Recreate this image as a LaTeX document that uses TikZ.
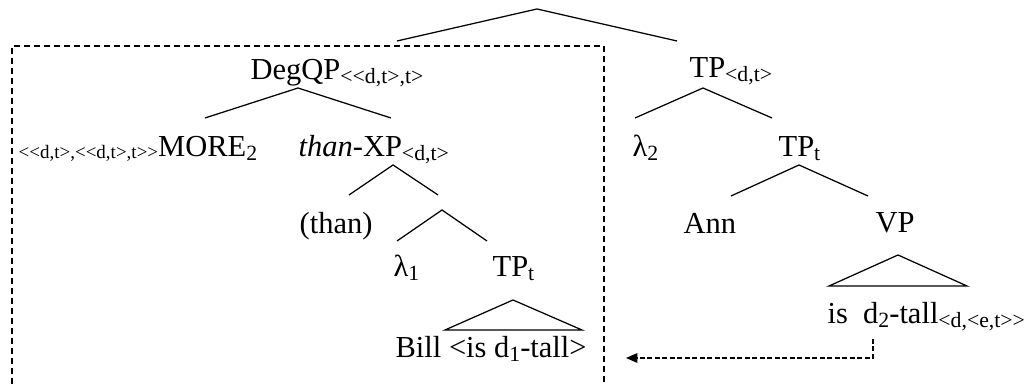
\documentclass[tikz,border=0pt]{standalone}
\usepackage{fontspec}
\setmainfont{Liberation Serif}[Ligatures=TeXOff]
\usetikzlibrary{arrows.meta}

\newcommand{\tsub}[1]{\raisebox{-1.6pt}{\fontsize{8.7}{9}\selectfont #1}}
\newcommand{\typ}[1]{\raisebox{-0.8pt}{\fontsize{7.6}{9}\selectfont #1}}

\begin{document}
\begin{tikzpicture}[x=0.4pt,y=-0.4pt,line width=0.5pt,
  lbl/.style={anchor=base west,inner sep=0pt,font=\fontsize{12.2}{14}\selectfont},
  frame/.style={dash pattern=on 2.4pt off 1.6pt},
  trace/.style={dash pattern=on 2pt off 1pt,-{Triangle[length=4.5pt,width=3.8pt]}}]
\useasboundingbox (0,0) rectangle (1028,384);

% labels
\node[lbl] (degqp) at (250,80) {DegQP\tsub{<<d,t>,t>}};
\node[lbl] (more) at (18,157) {\typ{<<d,t>,<<d,t>,t>>}MORE\tsub{2}};
\node[lbl] (thanxp) at (298,157) {\textit{than}-XP\tsub{<d,t>}};
\node[lbl] (than) at (299,234) {(than)};
\node[lbl] (lam1) at (393,277) {λ\tsub{1}};
\node[lbl] (tp1) at (492,277) {TP\tsub{t}};
\node[lbl] (bill) at (395,358) {Bill <is d\tsub{1}-tall>};
\node[lbl] (tpdt) at (689,78) {TP\tsub{<d,t>}};
\node[lbl] (lam2) at (632,157) {λ\tsub{2}};
\node[lbl] (tp2) at (778,157) {TP\tsub{t}};
\node[lbl] (ann) at (683,234) {Ann};
\node[lbl] (vp) at (875,233) {VP};
\node[lbl] (isd2) at (827,324) {is\ \ d\tsub{2}-tall\tsub{<d,<e,t>>}};

% branch points
\coordinate (root) at (537,9);
\coordinate (root-l) at (397,41);
\coordinate (root-r) at (677,41);
\coordinate (dq) at (298,88);
\coordinate (dq-l) at (205,118);
\coordinate (dq-r) at (391,118);
\coordinate (tp) at (703,88);
\coordinate (tp-l) at (635,118);
\coordinate (tp-r) at (772,118);
\coordinate (tx) at (393,165);
\coordinate (tx-l) at (349,195);
\coordinate (tx-r) at (438,195);
\coordinate (lx) at (442,210);
\coordinate (lx-l) at (397,241);
\coordinate (lx-r) at (487,241);
\coordinate (tt) at (799,165);
\coordinate (tt-l) at (731,196);
\coordinate (tt-r) at (868,196);
\coordinate (gap) at (873,339);
\coordinate (tip) at (626,0);

\draw (root-l) -- (root) -- (root-r);
\draw (dq-l) -- (dq) -- (dq-r);
\draw (tp-l) -- (tp) -- (tp-r);
\draw (tx-l) -- (tx) -- (tx-r);
\draw (lx-l) -- (lx) -- (lx-r);
\draw (tt-l) -- (tt) -- (tt-r);

% roofs
\draw (445,330) -- (513,300) -- (582,330) -- cycle;
\draw (829,286) -- (898,255) -- (967,286) -- cycle;

% box round DegQP
\draw[frame] (12,384) |- (604,46) -- (604,384);

% trace arrow
\draw[trace] (gap) |- (bill.base east -| tip);
\end{tikzpicture}
\end{document}
